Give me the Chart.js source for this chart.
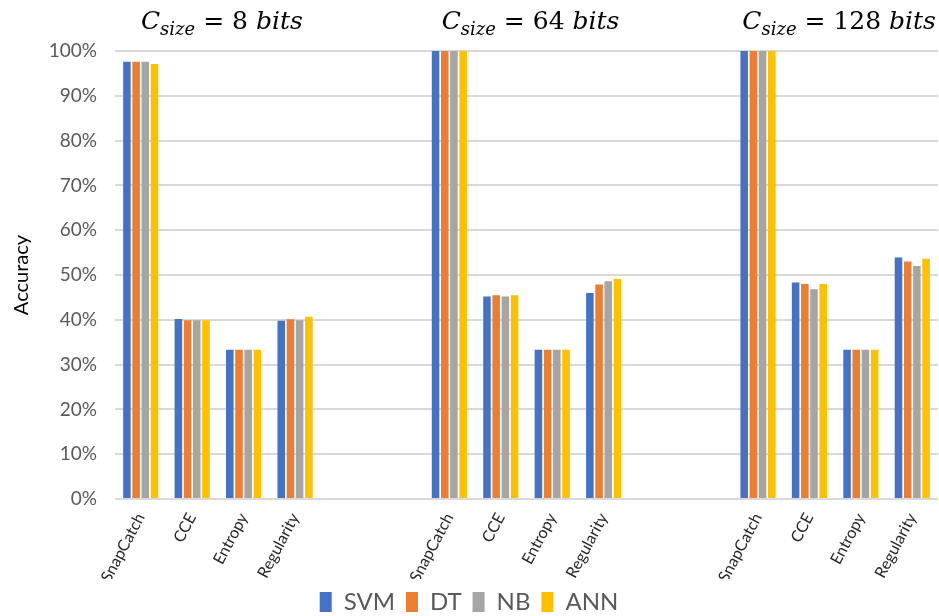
<!DOCTYPE html>
<html>
<head>
<meta charset="utf-8">
<script src="https://cdn.jsdelivr.net/npm/chart.js@4.4.0/dist/chart.umd.min.js"></script>
<style>
  body { margin: 0; background: #fff; }
  #wrap { width: 939px; height: 616px; }
</style>
</head>
<body>
<div id="wrap"><canvas id="myChart"></canvas></div>
<script>
const categories = ['SnapCatch','CCE','Entropy','Regularity','','',
                    'SnapCatch','CCE','Entropy','Regularity','','',
                    'SnapCatch','CCE','Entropy','Regularity'];

const svm = [97.6, 40.2, 33.3, 39.8, null, null, 100, 45.2, 33.3, 46.0, null, null, 100, 48.3, 33.3, 53.9];
const dt  = [97.6, 39.9, 33.3, 40.1, null, null, 100, 45.5, 33.3, 47.9, null, null, 100, 48.0, 33.3, 53.0];
const nb  = [97.6, 39.9, 33.3, 39.9, null, null, 100, 45.2, 33.3, 48.6, null, null, 100, 46.8, 33.3, 52.0];
const ann = [97.1, 39.9, 33.3, 40.7, null, null, 100, 45.5, 33.3, 49.1, null, null, 100, 48.0, 33.3, 53.6];

// title above each group: C_size = N bits, centred on the group
const groupBits = ['8', '64', '128'];
const groupCenters = [1.5, 7.5, 13.5];

const groupTitles = {
  id: 'groupTitles',
  afterDraw(chart) {
    const ctx = chart.ctx;
    const x = chart.scales.x;
    const base = 29;
    const big = 'italic 25px "DejaVu Serif"';
    const up = '25px "DejaVu Serif"';
    const sub = 'italic 18px "DejaVu Serif"';
    ctx.save();
    ctx.fillStyle = '#000';
    ctx.textBaseline = 'alphabetic';
    ctx.textAlign = 'left';
    groupBits.forEach((b, i) => {
      const parts = [
        [big, 'C', 0],
        [sub, 'size', 6],
        [up, ' = ' + b + ' ', 0],
        [big, 'bits', 0]
      ];
      let w = 0;
      parts.forEach(p => { ctx.font = p[0]; w += ctx.measureText(p[1]).width; });
      let cx = x.getPixelForValue(groupCenters[i]) + 4 - w / 2;
      parts.forEach(p => {
        ctx.font = p[0];
        ctx.fillText(p[1], cx, base + p[2]);
        cx += ctx.measureText(p[1]).width;
      });
    });
    ctx.restore();
  }
};

const data = {
  labels: categories,
  datasets: [
    { label: 'SVM', data: svm, backgroundColor: '#4472C4' },
    { label: 'DT',  data: dt,  backgroundColor: '#ED7D31' },
    { label: 'NB',  data: nb,  backgroundColor: '#A5A5A5' },
    { label: 'ANN', data: ann, backgroundColor: '#FFC000' }
  ]
};

const config = {
  type: 'bar',
  data: data,
  options: {
    responsive: true,
    maintainAspectRatio: false,
    animation: false,
    datasets: { bar: { categoryPercentage: 0.715, barPercentage: 0.82 } },
    layout: { padding: { top: 51, right: 1, left: 0, bottom: -8 } },
    plugins: {
      legend: {
        position: 'bottom',
        labels: {
          boxWidth: 12, boxHeight: 20, padding: 11,
          color: '#595959',
          font: { family: 'Lato', size: 24 }
        }
      },
      tooltip: { enabled: false }
    },
    scales: {
      x: {
        grid: { display: false },
        border: { display: false },
        ticks: {
          minRotation: 62, maxRotation: 62, autoSkip: false,
          color: '#262626',
          font: { family: 'Lato', size: 16 }
        },
        afterFit(scale) { scale.height = 80; }
      },
      y: {
        min: 0, max: 100,
        border: { display: false },
        grid: { color: '#d9d9d9', lineWidth: 2, drawTicks: false },
        ticks: {
          stepSize: 10, padding: 18,
          color: '#595959',
          font: { family: 'Lato', size: 19 },
          callback: v => v + '%'
        },
        title: {
          display: true, text: 'Accuracy', color: '#000',
          font: { family: 'Lato', size: 20 }, padding: { top: 10, bottom: 0 }
        },
        afterFit(scale) { scale.width = 115; }
      }
    }
  },
  plugins: [groupTitles]
};

const myChart = new Chart(document.getElementById('myChart'), config);
</script>
</body>
</html>
